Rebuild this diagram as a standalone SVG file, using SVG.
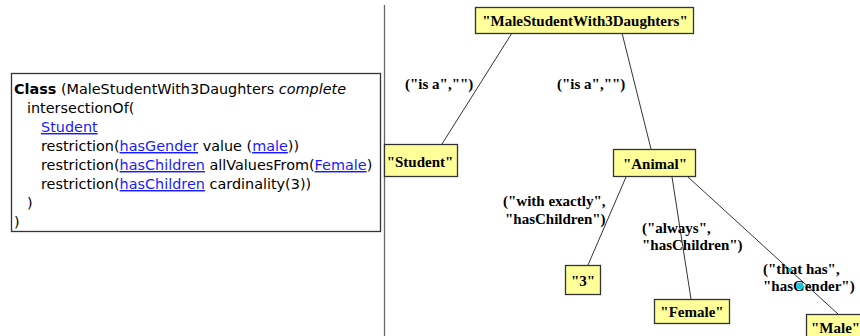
<svg xmlns="http://www.w3.org/2000/svg" width="860" height="336" viewBox="0 0 860 336">
  <style>
    .code { font-family: "DejaVu Sans", Verdana, sans-serif; font-size: 14.4px; fill: #000; }
    .link { fill: #1a1aff; text-decoration: underline; }
    .node rect { fill: #ffff99; stroke: #333; stroke-width: 1.3; }
    .node text { font-family: "Liberation Serif", "Times New Roman", serif; font-weight: bold; font-size: 15px; fill: #000; text-anchor: middle; }
    .edges line { stroke: #333; stroke-width: 1; }
    .lbl { font-family: "Liberation Serif", "Times New Roman", serif; font-weight: bold; font-size: 15px; fill: #000; }
  </style>
  <rect width="860" height="336" fill="#fff"/>

  <!-- divider -->
  <line x1="384.5" y1="5" x2="384.5" y2="336" stroke="#666" stroke-width="1.3"/>

  <!-- class definition panel -->
  <g id="class-definition">
    <rect x="11.5" y="73.5" width="369" height="158" fill="#fff" stroke="#333" stroke-width="1.3"/>
    <text class="code" x="14" y="94"><tspan font-weight="bold">Class</tspan> (MaleStudentWith3Daughters <tspan font-style="italic">complete</tspan></text>
    <text class="code" x="27" y="113">intersectionOf(</text>
    <text class="code link" x="41" y="132">Student</text>
    <text class="code" x="41" y="151">restriction(<tspan class="link">hasGender</tspan> value (<tspan class="link">male</tspan>))</text>
    <text class="code" x="41" y="170">restriction(<tspan class="link">hasChildren</tspan> allValuesFrom(<tspan class="link">Female</tspan>)</text>
    <text class="code" x="41" y="189">restriction(<tspan class="link">hasChildren</tspan> cardinality(3))</text>
    <text class="code" x="27" y="208">)</text>
    <text class="code" x="14" y="227">)</text>
  </g>

  <!-- connectors -->
  <g id="edges" class="edges">
    <line x1="512" y1="33" x2="442" y2="144"/>
    <line x1="622" y1="33" x2="651" y2="149"/>
    <line x1="626" y1="177" x2="588" y2="265"/>
    <line x1="672" y1="177" x2="691" y2="299"/>
    <line x1="688" y1="177" x2="838" y2="314"/>
    <text class="lbl" x="405" y="89">("is a","")</text>
    <text class="lbl" x="557" y="89">("is a","")</text>
    <text class="lbl" x="503" y="206">("with exactly",</text>
    <text class="lbl" x="505" y="224">"hasChildren")</text>
    <text class="lbl" x="642" y="233">("always",</text>
    <text class="lbl" x="642" y="250">"hasChildren")</text>
    <text class="lbl" x="763" y="274">("that has",</text>
    <text class="lbl" x="763" y="291">"hasGender")</text>
    <circle cx="790" cy="270" r="2" fill="#1ac6d6"/>
    <circle cx="800" cy="286" r="3.5" fill="#1ac6d6"/>
  </g>

  <!-- nodes -->
  <g id="node-male-student" class="node">
    <rect x="475.5" y="7.5" width="218" height="26"/>
    <text x="585" y="26">"MaleStudentWith3Daughters"</text>
  </g>
  <g id="node-student" class="node">
    <rect x="384.5" y="144.5" width="73" height="32"/>
    <text x="420" y="167">"Student"</text>
  </g>
  <g id="node-animal" class="node">
    <rect x="613.5" y="149.5" width="82" height="27"/>
    <text x="655" y="169">"Animal"</text>
  </g>
  <g id="node-3" class="node">
    <rect x="565.5" y="265.5" width="35" height="29"/>
    <text x="583" y="286">"3"</text>
  </g>
  <g id="node-female" class="node">
    <rect x="654.5" y="299.5" width="75" height="24"/>
    <text x="692" y="317">"Female"</text>
  </g>
  <g id="node-male" class="node">
    <rect x="806.5" y="314.5" width="70" height="30"/>
    <text x="811" y="333" style="text-anchor:start">"Male"</text>
  </g>
</svg>
